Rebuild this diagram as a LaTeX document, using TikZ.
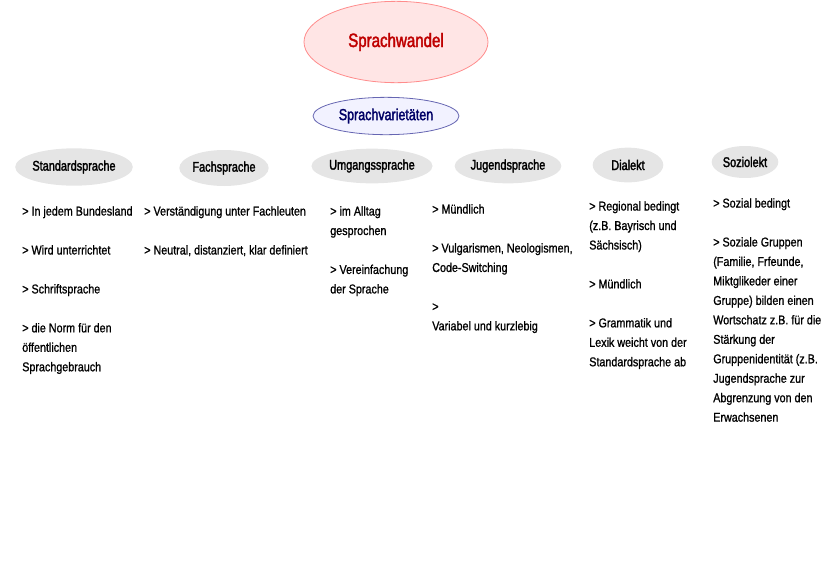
\documentclass[tikz,border=0pt]{standalone}
\usepackage{fontspec}
\setmainfont{Liberation Sans}[FakeStretch=0.84,FakeBold=1]
\newfontfamily\hdfont{Liberation Sans}[FakeStretch=0.78,FakeBold=2]
\usetikzlibrary{shapes.geometric}
\begin{document}
\begin{tikzpicture}[x=0.75pt,y=-0.75pt,
  grey/.style={ellipse,fill=black!10,inner sep=0,minimum width=#1},
  txt/.style={anchor=north west,inner sep=0,align=left,font=\fontsize{9.6pt}{14.6pt}\selectfont},
  hd/.style={font=\hdfont\fontsize{10.5pt}{12pt}\selectfont}]
\useasboundingbox (0,0) rectangle (828,586);
\node[ellipse,draw=red!45,fill=red!10,line width=0.6pt,minimum width=138pt,minimum height=61pt,text=red!75!black,font=\hdfont\fontsize{14.5pt}{16pt}\selectfont] (sw) at (396,42) {Sprachwandel};
\node[ellipse,draw=blue!50!black!60,fill=blue!5,line width=0.6pt,minimum width=96pt,minimum height=28pt,text=blue!40!black,font=\hdfont\fontsize{12pt}{14pt}\selectfont] (sv) at (386,116) {Sprachvarietäten};
\node[grey=86pt,minimum height=28pt,hd] (a) at (74,167) {Standardsprache};
\node[grey=63pt,minimum height=27pt,hd] (b) at (224,168) {Fachsprache};
\node[grey=88pt,minimum height=26pt,hd] (c) at (372,166) {Umgangssprache};
\node[grey=80pt,minimum height=26pt,hd] (d) at (508,166) {Jugendsprache};
\node[grey=53pt,minimum height=26pt,hd] (e) at (628,165) {Dialekt};
\node[grey=50pt,minimum height=24pt,hd] (f) at (745,162) {Soziolekt};
\node[txt] (t1) at (22,206) {> In jedem Bundesland\\[14.6pt]> Wird unterrichtet\\[14.6pt]> Schriftsprache\\[14.6pt]> die Norm für den\\öffentlichen\\Sprachgebrauch};
\node[txt] (t2) at (144,206) {> Verständigung unter Fachleuten\\[14.6pt]> Neutral, distanziert, klar definiert};
\node[txt] (t3) at (330,206) {> im Alltag\\gesprochen\\[14.6pt]> Vereinfachung\\der Sprache};
\node[txt] (t4) at (432,204) {> Mündlich\\[14.6pt]> Vulgarismen, Neologismen,\\Code-Switching\\[14.6pt]>\\Variabel und kurzlebig};
\node[txt] (t5) at (589,201) {> Regional bedingt\\(z.B. Bayrisch und\\Sächsisch)\\[14.6pt]> Mündlich\\[14.6pt]> Grammatik und\\Lexik weicht von der\\Standardsprache ab};
\node[txt] (t6) at (713,198) {> Sozial bedingt\\[14.6pt]> Soziale Gruppen\\(Familie, Frfeunde,\\Miktglikeder einer\\Gruppe) bilden einen\\Wortschatz z.B. für die\\Stärkung der\\Gruppenidentität (z.B.\\Jugendsprache zur\\Abgrenzung von den\\Erwachsenen};
\end{tikzpicture}
\end{document}
